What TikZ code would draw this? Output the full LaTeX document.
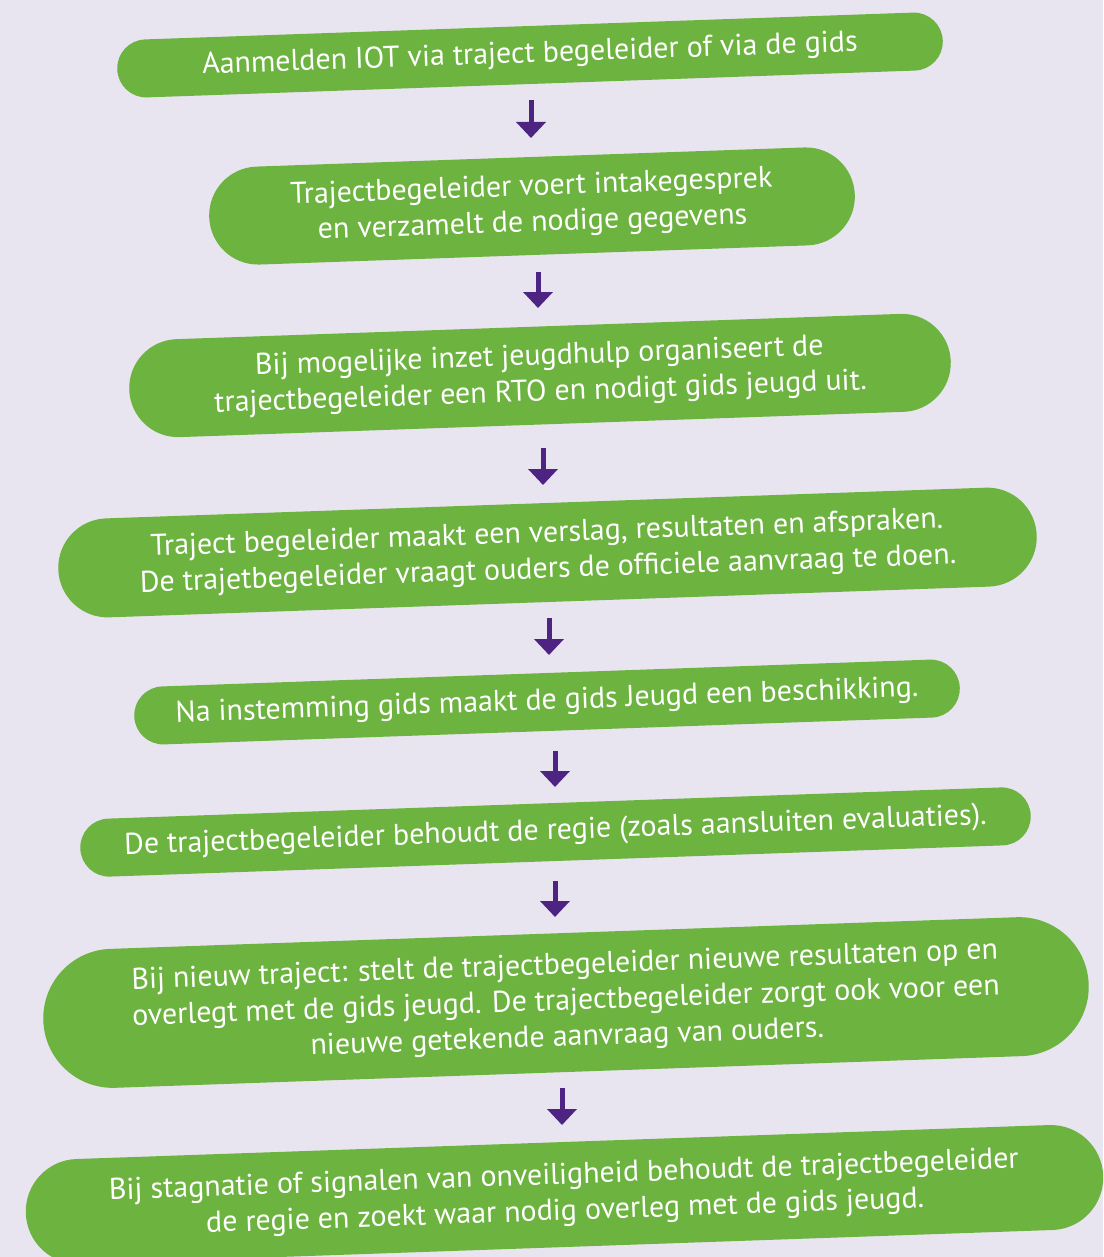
\documentclass[tikz,border=0pt]{standalone}
\usepackage{fontspec}
\setmainfont{PT Sans}
\usetikzlibrary{arrows.meta}
\definecolor{bg}{RGB}{232,229,241}
\definecolor{grn}{RGB}{109,179,63}
\definecolor{prp}{RGB}{78,36,130}
\begin{document}
\begin{tikzpicture}[x=1pt,y=-1pt,
  stepbox/.style={fill=grn, text=white, rotate=2, align=center, inner sep=0pt,
    font=\fontsize{30}{36}\selectfont},
  flow/.style={draw=prp, line width=5pt, -{Triangle[width=29pt,length=16pt]}}]
\fill[bg] (0,0) rectangle (1103,1257);
\useasboundingbox (0,0) rectangle (1103,1257);
\clip (0,0) rectangle (1103,1257);
\node[stepbox, minimum width=826pt, minimum height=58pt, rounded corners=28.9pt] (b1) at (530,55)
  {Aanmelden IOT via traject begeleider of via de gids};
\node[stepbox, minimum width=646pt, minimum height=98pt, rounded corners=48.9pt] (b2) at (532,206)
  {Trajectbegeleider voert intakegesprek\\en verzamelt de nodige gegevens};
\node[stepbox, minimum width=822pt, minimum height=98pt, rounded corners=48.9pt] (b3) at (540,375.5)
  {Bij mogelijke inzet jeugdhulp organiseert de\\trajectbegeleider een RTO en nodigt gids jeugd uit.};
\node[stepbox, minimum width=979pt, minimum height=99pt, rounded corners=49.4pt] (b4) at (547.5,552.5)
  {Traject begeleider maakt een verslag, resultaten en afspraken.\\De trajetbegeleider vraagt ouders de officiele aanvraag te doen.};
\node[stepbox, minimum width=826pt, minimum height=58pt, rounded corners=28.9pt] (b5) at (547,702)
  {Na instemming gids maakt de gids Jeugd een beschikking.};
\node[stepbox, minimum width=951pt, minimum height=58pt, rounded corners=28.9pt] (b6) at (555.5,832)
  {De trajectbegeleider behoudt de regie (zoals aansluiten evaluaties).};
\node[stepbox, minimum width=1046pt, minimum height=139pt, rounded corners=69.4pt] (b7) at (566,1002.5)
  {Bij nieuw traject: stelt de trajectbegeleider nieuwe resultaten op en\\overlegt met de gids jeugd. De trajectbegeleider zorgt ook voor een\\nieuwe getekende aanvraag van ouders.};
\node[stepbox, minimum width=1078pt, minimum height=105pt, rounded corners=52.4pt] (b8) at (564.5,1194.5)
  {Bij stagnatie of signalen van onveiligheid behoudt de trajectbegeleider\\de regie en zoekt waar nodig overleg met de gids jeugd.};
\coordinate (a1s) at (531,100);  \coordinate (a1e) at (531,138);
\coordinate (a2s) at (538,272);  \coordinate (a2e) at (538,308);
\coordinate (a3s) at (543,448);  \coordinate (a3e) at (543,485);
\coordinate (a4s) at (549,618);  \coordinate (a4e) at (549,655);
\coordinate (a5s) at (555,751);  \coordinate (a5e) at (555,787);
\coordinate (a6s) at (555,881);  \coordinate (a6e) at (555,917);
\coordinate (a7s) at (562,1088); \coordinate (a7e) at (562,1125);
\foreach \i in {1,...,7} {\draw[flow] (a\i s) -- (a\i e);}
\end{tikzpicture}
\end{document}
